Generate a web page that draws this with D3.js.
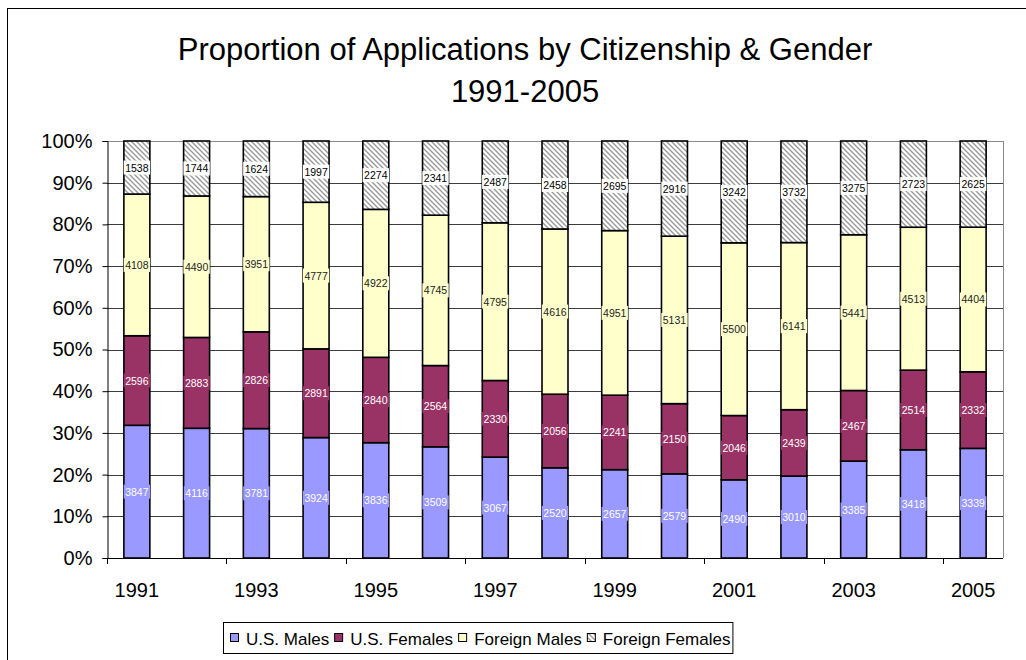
<!DOCTYPE html>
<html lang="en">
  <head>
    <meta charset="utf-8">
    <title>Proportion of Applications by Citizenship &amp; Gender</title>
    <style>
      body { margin: 0; background: #fff; }
      svg { display: block; font-family: "Liberation Sans", Arial, sans-serif; }
    </style>
  </head>
  <body>
    <svg id="chart"></svg>
    <script src="https://cdn.jsdelivr.net/npm/d3@7"></script>
    <script>

      const width = 1026;
      const height = 660;

      // data
      const years = ["1991","1992","1993","1994","1995","1996","1997","1998","1999","2000","2001","2002","2003","2004","2005"];
      const seriesNames = ["U.S. Males", "U.S. Females", "Foreign Males", "Foreign Females"];
      const usMales       = [3847, 4116, 3781, 3924, 3836, 3509, 3067, 2520, 2657, 2579, 2490, 3010, 3385, 3418, 3339];
      const usFemales     = [2596, 2883, 2826, 2891, 2840, 2564, 2330, 2056, 2241, 2150, 2046, 2439, 2467, 2514, 2332];
      const foreignMales  = [4108, 4490, 3951, 4777, 4922, 4745, 4795, 4616, 4951, 5131, 5500, 6141, 5441, 4513, 4404];
      const foreignFemales= [1538, 1744, 1624, 1997, 2274, 2341, 2487, 2458, 2695, 2916, 3242, 3732, 3275, 2723, 2625];
      const yTicks = [0, 0.1, 0.2, 0.3, 0.4, 0.5, 0.6, 0.7, 0.8, 0.9, 1];
      const xLabelYears = ["1991","1993","1995","1997","1999","2001","2003","2005"];

      const rows = years.map((y, i) => ({
        year: y,
        "U.S. Males": usMales[i],
        "U.S. Females": usFemales[i],
        "Foreign Males": foreignMales[i],
        "Foreign Females": foreignFemales[i]
      }));

      const fills = ["#9999FF", "#993366", "#FFFFCC", "url(#hatch)"];
      const labelBg = ["#9999FF", "#993366", "#FFFFCC", "#ffffff"];
      const labelInk = ["#ffffff", "#ffffff", "#222222", "#000000"];

      const plot = { left: 107, top: 141, right: 1003, bottom: 558 };

      const svg = d3.select("#chart")
        .attr("width", width)
        .attr("height", height)
        .attr("viewBox", [0, 0, width, height]);

      // hatch pattern for the foreign females
      const defs = svg.append("defs");
      const pat = defs.append("pattern")
        .attr("id", "hatch")
        .attr("patternUnits", "userSpaceOnUse")
        .attr("width", 5)
        .attr("height", 5);
      pat.append("rect").attr("width", 5).attr("height", 5).attr("fill", "#fff");
      pat.append("path")
        .attr("d", "M-1,-1 L6,6 M-1,4 L1,6 M4,-1 L6,1")
        .attr("stroke", "#9a9a9a")
        .attr("stroke-width", 1.4);

      // outer chart frame
      svg.append("rect")
        .attr("x", 7.5).attr("y", 8.5)
        .attr("width", 1040).attr("height", 700)
        .attr("fill", "none")
        .attr("stroke", "#000")
        .attr("stroke-width", 1);

      // title
      const title = svg.append("text")
        .attr("text-anchor", "middle")
        .attr("font-size", 31)
        .attr("fill", "#000");
      title.append("tspan").attr("x", 525).attr("y", 60).text("Proportion of Applications by Citizenship & Gender");
      title.append("tspan").attr("x", 525).attr("y", 102).text("1991-2005");

      const x = d3.scaleBand()
        .domain(years)
        .range([plot.left, plot.right])
        .paddingInner(0.565)
        .paddingOuter(0.2825);

      const y = d3.scaleLinear()
        .domain([0, 1])
        .range([plot.bottom, plot.top]);

      // gridlines
      svg.append("g")
        .selectAll("line")
        .data(yTicks.slice(1))
        .join("line")
        .attr("x1", plot.left).attr("x2", plot.right)
        .attr("y1", d => Math.round(y(d)) + 0.5)
        .attr("y2", d => Math.round(y(d)) + 0.5)
        .attr("stroke", d => d === 1 ? "#8a8a8a" : "#3c3c3c")
        .attr("stroke-width", 1);

      // plot area right edge
      svg.append("line")
        .attr("x1", plot.right + 0.5).attr("x2", plot.right + 0.5)
        .attr("y1", plot.top).attr("y2", plot.bottom)
        .attr("stroke", "#8a8a8a");

      const stacked = d3.stack()
        .keys(seriesNames)
        .offset(d3.stackOffsetExpand)(rows);

      const layers = svg.append("g")
        .selectAll("g")
        .data(stacked)
        .join("g")
        .attr("fill", (d, i) => fills[i]);

      layers.selectAll("rect")
        .data(d => d)
        .join("rect")
        .attr("x", d => x(d.data.year))
        .attr("y", d => y(d[1]))
        .attr("width", x.bandwidth())
        .attr("height", d => y(d[0]) - y(d[1]))
        .attr("stroke", "#000")
        .attr("stroke-width", 1.6);

      // value labels
      const labels = svg.append("g")
        .attr("font-size", 10.5);

      stacked.forEach((layer, si) => {
        layer.forEach(d => {
          const cx = x(d.data.year) + x.bandwidth() / 2;
          const cy = y((d[0] + d[1]) / 2);
          const g = labels.append("g");
          const bg = g.append("rect");
          const t = g.append("text")
            .attr("x", cx)
            .attr("y", cy + 4)
            .attr("text-anchor", "middle")
            .attr("fill", labelInk[si])
            .text(d.data[layer.key]);
          const w = t.node().getComputedTextLength();
          bg.attr("x", cx - w / 2 - 1.5)
            .attr("y", cy - 7)
            .attr("width", w + 3)
            .attr("height", 14)
            .attr("fill", labelBg[si]);
        });
      });

      // y axis
      const yAxis = d3.axisLeft(y)
        .tickValues(yTicks)
        .tickFormat(d3.format(".0%"))
        .tickSize(5)
        .tickPadding(10);
      const gy = svg.append("g")
        .attr("transform", `translate(${plot.left + 0.5},0)`)
        .call(yAxis);
      gy.selectAll("text").attr("font-size", 20).attr("fill", "#000").attr("font-family", null);
      gy.selectAll("line, path").attr("stroke", "#000");

      // x axis: ticks between every second category
      const tickPos = d3.range(0, years.length + 1, 2).map(i => plot.left + i * (plot.right - plot.left) / years.length);
      const gx = svg.append("g");
      gx.append("line")
        .attr("x1", plot.left).attr("x2", plot.right)
        .attr("y1", plot.bottom + 0.5).attr("y2", plot.bottom + 0.5)
        .attr("stroke", "#000");
      gx.selectAll("line.tick")
        .data(tickPos)
        .join("line")
        .attr("class", "tick")
        .attr("x1", d => Math.round(d) + 0.5).attr("x2", d => Math.round(d) + 0.5)
        .attr("y1", plot.bottom).attr("y2", plot.bottom + 6)
        .attr("stroke", "#000");
      gx.selectAll("text")
        .data(xLabelYears)
        .join("text")
        .attr("x", d => x(d) + x.bandwidth() / 2)
        .attr("y", 597)
        .attr("text-anchor", "middle")
        .attr("font-size", 20)
        .attr("fill", "#000")
        .text(d => d);

      // legend
      const legend = svg.append("g");
      const legendBox = legend.append("rect")
        .attr("x", 223.5).attr("y", 622.5)
        .attr("height", 31)
        .attr("fill", "#fff")
        .attr("stroke", "#000");
      let lx = 230;
      seriesNames.forEach((name, i) => {
        legend.append("rect")
          .attr("x", lx + 0.5).attr("y", 633.5)
          .attr("width", 8).attr("height", 8)
          .attr("fill", fills[i])
          .attr("stroke", "#000");
        const t = legend.append("text")
          .attr("x", lx + 16)
          .attr("y", 645)
          .attr("font-size", 17)
          .attr("fill", "#000")
          .text(name);
        lx += 16 + t.node().getComputedTextLength() + 5;
      });
      legendBox.attr("width", lx - 223 - 3);

    </script>
  </body>
</html>
